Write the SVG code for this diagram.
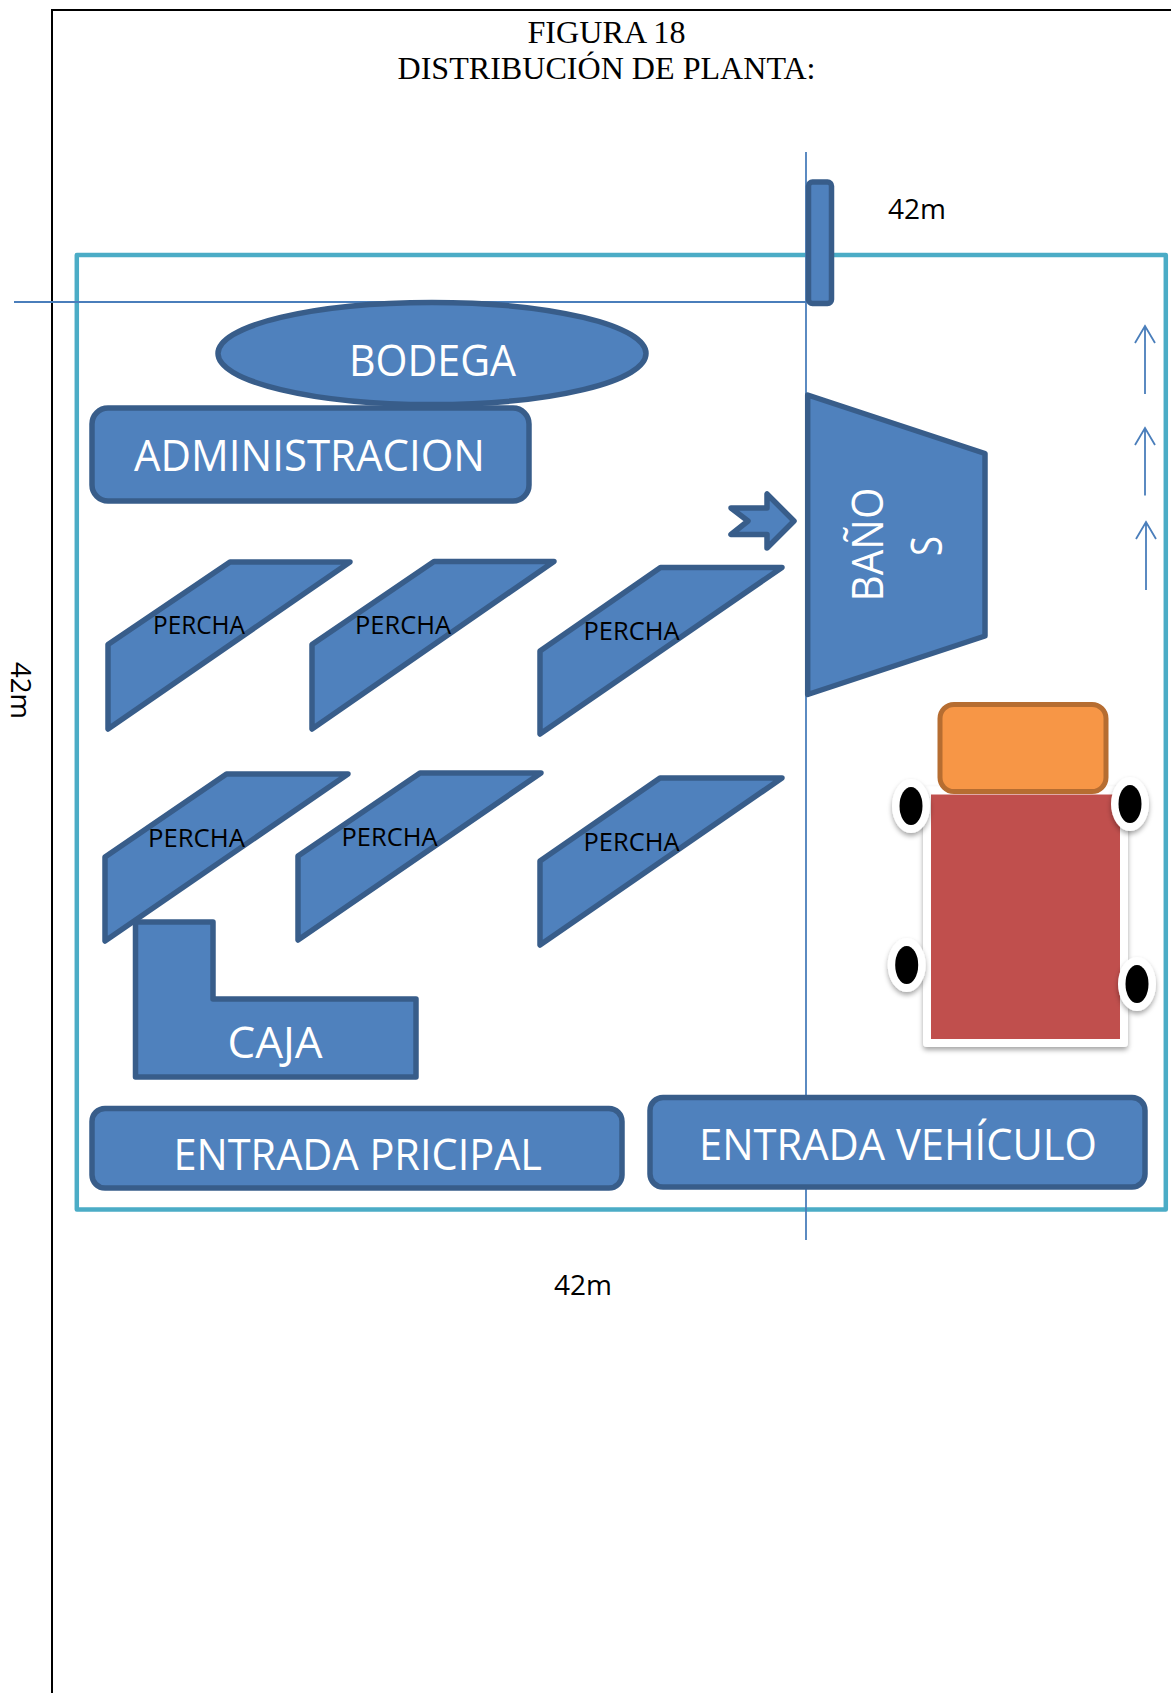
<svg xmlns="http://www.w3.org/2000/svg" width="1171" height="1693" viewBox="0 0 1171 1693">
<style>
.b{fill:#4f81bd;stroke:#385d8a;stroke-width:5.500;stroke-linejoin:round}
.w{font-family:"Open Sans","Liberation Sans",sans-serif;font-size:43px;fill:#fff}
.k{font-family:"Open Sans","Liberation Sans",sans-serif;font-size:28px;fill:#000}
.p{font-family:"Open Sans","Liberation Sans",sans-serif;font-size:25px;fill:#000}
.t{font-family:"Liberation Serif",serif;font-size:32px;fill:#000}
.l{fill:none;stroke:#4a7ebb;stroke-width:1.800}
</style>
<defs>
<filter id="sh" x="-20%" y="-20%" width="140%" height="140%"><feDropShadow dx="0" dy="3" stdDeviation="2.5" flood-color="#000" flood-opacity="0.35"/></filter>
</defs>
<rect width="1171" height="1693" fill="#fff"/>
<path d="M1171 10H52V1693" fill="none" stroke="#000" stroke-width="2"/>
<g id="title">
<text class="t" x="527.500" y="43" textLength="158" lengthAdjust="spacingAndGlyphs">FIGURA 18</text>
<text class="t" x="397.500" y="79" textLength="418" lengthAdjust="spacingAndGlyphs">DISTRIBUCIÓN DE PLANTA:</text>
</g>
<g id="plot"><rect x="76.800" y="255" width="1089" height="954.500" fill="none" stroke="#4bacc6" stroke-width="4.500" stroke-linejoin="round"/></g>
<g id="connectors">
<path class="l" d="M14 302H806"/>
<path class="l" d="M806 152V1240"/>
<path class="l" d="M1145 394V326M1135 343L1145 326L1155 343"/>
<path class="l" d="M1145 495.500V428M1135 445L1145 428L1155 445"/>
<path class="l" d="M1146 590V522M1136 539L1146 522L1156 539"/>
</g>
<g id="post"><rect class="b" x="808.500" y="182" width="23" height="121.500" rx="4"/></g>
<text id="dim-top" class="k" x="888" y="219" textLength="58" lengthAdjust="spacingAndGlyphs">42m</text>
<g id="bodega"><ellipse class="b" cx="432" cy="353.500" rx="214" ry="51"/><text class="w" x="349" y="376" textLength="167" lengthAdjust="spacingAndGlyphs">BODEGA</text></g>
<g id="administracion"><rect class="b" x="92" y="408" width="437" height="93" rx="16"/><text class="w" x="134" y="471" textLength="351" lengthAdjust="spacingAndGlyphs">ADMINISTRACION</text></g>
<g id="arrow"><path class="b" d="M794 521L767 494V508H731L748 521L731 534.500H767V548Z"/></g>
<g id="banos"><path class="b" d="M807.700 395L985 453.500V636L807.700 694.500Z"/>
<text class="w" transform="translate(883 601.500) rotate(-90)" textLength="114" lengthAdjust="spacingAndGlyphs">BAÑO</text>
<text class="w" transform="translate(942 556) rotate(-90)" textLength="20" lengthAdjust="spacingAndGlyphs">S</text></g>
<g id="percha-1"><path class="b" d="M108 644.500L230 562H350L108 729Z"/><text class="p" x="153" y="634" textLength="92" lengthAdjust="spacingAndGlyphs">PERCHA</text></g>
<g id="percha-2"><path class="b" d="M312 644.500L434 561.500H554L312 729Z"/><text class="p" x="355" y="634" textLength="96" lengthAdjust="spacingAndGlyphs">PERCHA</text></g>
<g id="percha-3"><path class="b" d="M540 651L660.500 567.500H782L540 734Z"/><text class="p" x="583.500" y="640" textLength="96" lengthAdjust="spacingAndGlyphs">PERCHA</text></g>
<g id="percha-4"><path class="b" d="M105 857L226.500 774H348L105 941Z"/><text class="p" x="148" y="847" textLength="97" lengthAdjust="spacingAndGlyphs">PERCHA</text></g>
<g id="percha-5"><path class="b" d="M298 856L420 773H541L298 940Z"/><text class="p" x="341.500" y="846" textLength="96" lengthAdjust="spacingAndGlyphs">PERCHA</text></g>
<g id="percha-6"><path class="b" d="M540 861L660 778H782L540 945Z"/><text class="p" x="583.500" y="851" textLength="96" lengthAdjust="spacingAndGlyphs">PERCHA</text></g>
<g id="caja"><path class="b" d="M135.500 922H213V999H416V1077H135.500Z"/><text class="w" x="227.500" y="1058" textLength="95" lengthAdjust="spacingAndGlyphs">CAJA</text></g>
<g id="entrada-principal"><rect class="b" x="92" y="1108.500" width="530" height="79.500" rx="13"/><text class="w" x="173.500" y="1170" textLength="368.500" lengthAdjust="spacingAndGlyphs">ENTRADA PRICIPAL</text></g>
<g id="entrada-vehiculo"><rect class="b" x="650" y="1097.500" width="495" height="89.500" rx="13"/><text class="w" x="699" y="1160" textLength="398" lengthAdjust="spacingAndGlyphs">ENTRADA VEHÍCULO</text></g>
<g id="truck">
<rect x="927" y="790.500" width="197" height="252.500" fill="#c0504d" stroke="#fff" stroke-width="8" stroke-linejoin="round" filter="url(#sh)"/>
<rect x="940" y="704.500" width="166" height="87" rx="14" fill="#f79646" stroke="#b66d31" stroke-width="5"/>
<g filter="url(#sh)"><ellipse cx="911" cy="806" rx="19" ry="27" fill="#fff"/><ellipse cx="1130" cy="804" rx="19" ry="27" fill="#fff"/><ellipse cx="906.700" cy="965" rx="19" ry="27" fill="#fff"/><ellipse cx="1137" cy="984" rx="19" ry="27" fill="#fff"/></g>
<ellipse cx="911" cy="806" rx="11.500" ry="19"/><ellipse cx="1130" cy="804" rx="11.500" ry="19"/><ellipse cx="906.700" cy="965" rx="11.500" ry="19"/><ellipse cx="1137" cy="984" rx="11.500" ry="19"/>
</g>
<text id="dim-left" class="k" transform="translate(11 662) rotate(90)" textLength="57" lengthAdjust="spacingAndGlyphs">42m</text>
<text id="dim-bottom" class="k" x="554" y="1295" textLength="58" lengthAdjust="spacingAndGlyphs">42m</text>
</svg>
